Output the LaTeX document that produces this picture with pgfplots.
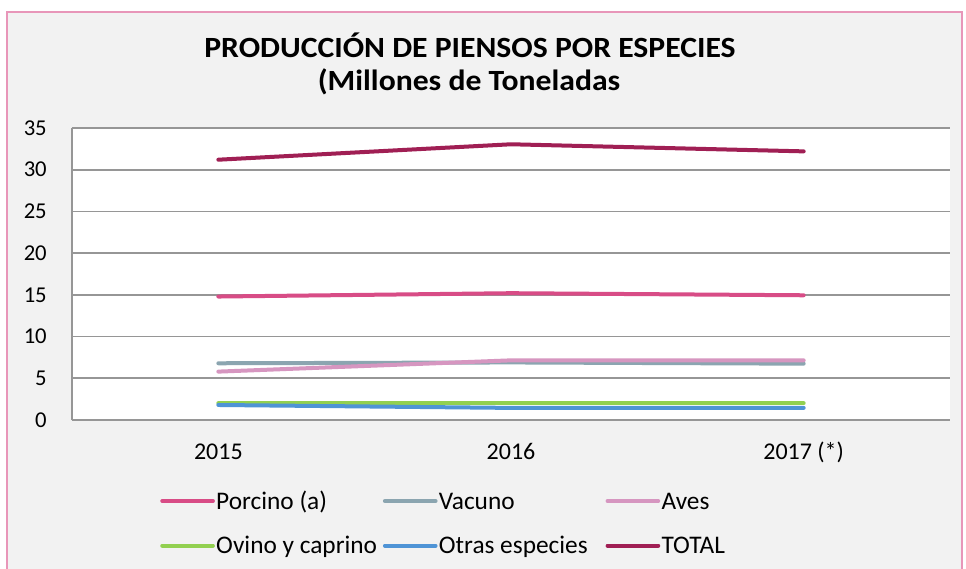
\documentclass[border=0pt]{standalone}
\usepackage{fontspec}
\setmainfont{Carlito}
\usepackage{pgfplots}
\pgfplotsset{compat=1.18}
\definecolor{cTotal}{RGB}{160,31,84}
\definecolor{cPorcino}{RGB}{216,76,134}
\definecolor{cVacuno}{RGB}{139,165,176}
\definecolor{cAves}{RGB}{214,150,192}
\definecolor{cOvino}{RGB}{146,208,80}
\definecolor{cOtras}{RGB}{79,148,214}
\definecolor{bggray}{RGB}{242,242,242}
\definecolor{pinkborder}{RGB}{232,150,185}
\definecolor{gridgray}{RGB}{150,150,150}
\newcommand\lent[1]{\makebox[123pt][l]{\hspace*{-0.5pt}#1}}
\begin{document}
\begin{tikzpicture}
\begin{scope}[x=0.75pt,y=0.75pt]
\useasboundingbox (0,0) rectangle (966,568);
\begin{scope}
\clip (0,0) rectangle (966,568);
\fill[white] (0,0) rectangle (966,568);
\draw[pinkborder, fill=bggray, line width=1.5pt] (7,-30) rectangle (962,556);
\end{scope}
\node[font=\bfseries\fontsize{22}{26}\selectfont, anchor=base, inner sep=0pt, xscale=1.08] at (470,510.7) {PRODUCCIÓN DE PIENSOS POR ESPECIES};
\node[font=\bfseries\fontsize{22}{26}\selectfont, anchor=base, inner sep=0pt, xscale=1.08] at (469,477) {(Millones de Toneladas};
\end{scope}
\begin{axis}[
  at={(54pt,111pt)}, anchor=south west,
  scale only axis, width=658.5pt, height=219pt,
  xmin=-0.5, xmax=2.5, ymin=0, ymax=35,
  xtick={0,1,2}, xticklabels={2015,2016,2017 (*)},
  ytick={0,5,...,35},
  major tick length=0pt,
  ymajorgrids, grid style={gridgray, line width=1.2pt},
  axis lines*=left,
  x axis line style={draw=none},
  y axis line style={gridgray, line width=1.2pt, -},
  axis background/.style={fill=white},
  xticklabel style={font=\fontsize{18}{20}\selectfont, inner ysep=0pt, text height=12pt, text depth=3pt, yshift=-17.25pt},
  yticklabel style={font=\fontsize{17}{19}\selectfont, inner xsep=0pt, xshift=-18.75pt},
  /pgf/number format/assume math mode=true,
  legend columns=3,
  legend style={at={(0.1002,-0.245)}, anchor=north west, draw=none, fill=none, inner sep=0pt,
    font=\fontsize{19}{21}\selectfont, row sep=16.4pt,
    nodes={inner xsep=1.5pt, inner ysep=0pt, text height=13pt, text depth=4pt}},
  legend cell align=left,
  legend image code/.code={\draw[#1, line cap=round] (0pt,1.6pt) -- (38pt,1.6pt);},
  every axis plot/.append style={line width=3pt, line cap=round, line join=round},
]
\addplot[cPorcino] coordinates {(0,14.8) (1,15.2) (2,14.95)};
\addlegendentry{\lent{Porcino (a)}}
\addplot[cVacuno] coordinates {(0,6.8) (1,6.9) (2,6.75)};
\addlegendentry{\lent{Vacuno}}
\addplot[cAves] coordinates {(0,5.8) (1,7.15) (2,7.15)};
\addlegendentry{\lent{Aves}}
\addplot[cOvino] coordinates {(0,2.0) (1,2.0) (2,2.0)};
\addlegendentry{\lent{Ovino y caprino}}
\addplot[cOtras] coordinates {(0,1.8) (1,1.45) (2,1.45)};
\addlegendentry{\lent{Otras especies}}
\addplot[cTotal] coordinates {(0,31.2) (1,33.05) (2,32.2)};
\addlegendentry{\lent{TOTAL}}
\end{axis}
\end{tikzpicture}
\end{document}
